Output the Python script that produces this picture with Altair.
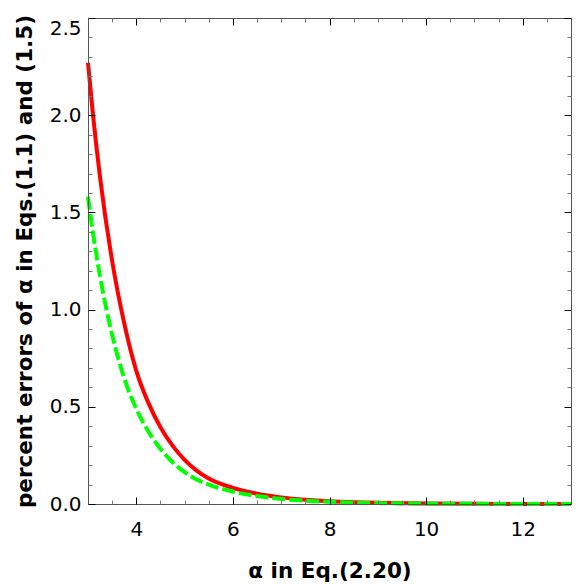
import altair as alt
import pandas as pd

# Curves (shared x positions)
x_vals = [3.0, 3.1, 3.25, 3.5, 3.75, 4.0, 4.25, 4.5, 4.75, 5.0, 5.25, 5.5,
          6.0, 6.5, 7.0, 7.5, 8.0, 8.5, 9.0, 10.0, 11.0, 12.0, 13.0]
# Red solid curve
y_red = [2.27, 2.01, 1.68, 1.25, 0.93, 0.685, 0.52, 0.395, 0.30, 0.227, 0.172, 0.131,
         0.083, 0.053, 0.034, 0.022, 0.014, 0.009, 0.0058, 0.0024, 0.001, 0.0004, 0.00017]
# Green dashed curve
y_green = [1.58, 1.40, 1.17, 0.87, 0.647, 0.49, 0.373, 0.284, 0.215, 0.164, 0.126, 0.10,
           0.064, 0.041, 0.026, 0.017, 0.011, 0.007, 0.0045, 0.0018, 0.0007, 0.0003, 0.0001]

x_major = [4, 6, 8, 10, 12]
x_minor = [3.5, 4.5, 5, 5.5, 6.5, 7, 7.5, 8.5, 9, 9.5, 10.5, 11, 11.5, 12.5]
y_major = [0.0, 0.5, 1.0, 1.5, 2.0, 2.5]
y_minor = [0.1, 0.2, 0.3, 0.4, 0.6, 0.7, 0.8, 0.9, 1.1, 1.2, 1.3, 1.4,
           1.6, 1.7, 1.8, 1.9, 2.1, 2.2, 2.3, 2.4]

x_title = "α in Eq.(2.20)"
y_title = "percent errors of α in Eqs.(1.1) and (1.5)"

W, H = 483, 486
FRAME = "#555555"
MINOR = "#777777"

red_df = pd.DataFrame({"x": x_vals, "y": y_red})
green_df = pd.DataFrame({"x": x_vals, "y": y_green})


def xs():
    return alt.Scale(domain=[3, 13], nice=False, zero=False)


def ys():
    return alt.Scale(domain=[0, 2.5], nice=False, zero=False)


def tick_axis(orient, offset, values, size, color, domain=False):
    return alt.Axis(orient=orient, offset=offset, values=values, labels=False,
                    ticks=True, tickSize=size, tickColor=color, tickWidth=1,
                    domain=domain, domainColor=FRAME, domainWidth=1,
                    grid=False, title=None, zindex=1)


# Layer 1: red line with labelled bottom/left axes
red = alt.Chart(red_df).mark_line(color="#ff0000", strokeWidth=4, interpolate="monotone").encode(
    x=alt.X("x:Q", scale=xs(), axis=alt.Axis(
        orient="bottom", values=x_major, ticks=False, tickSize=0, labels=True,
        labelFont="DejaVu Sans", labelFontSize=20, labelPadding=15, labelColor="black",
        domain=True, domainColor=FRAME, domainWidth=1, grid=False,
        title=x_title, titleFont="DejaVu Sans", titleFontWeight="bold", titleFontSize=21.5,
        titleColor="black", titleY=73, titleX=W / 2, titleBaseline="alphabetic", zindex=1)),
    y=alt.Y("y:Q", scale=ys(), axis=alt.Axis(
        orient="left", values=y_major, format=".1f", ticks=False, tickSize=0, labels=True,
        labelFont="DejaVu Sans", labelFontSize=20, labelPadding=7, labelColor="black",
        labelBaseline={"condition": {"test": "datum.value >= 2.5", "value": "top"},
                       "value": "middle"},
        domain=True, domainColor=FRAME, domainWidth=1, grid=False,
        title=y_title, titleFont="DejaVu Sans", titleFontWeight="bold", titleFontSize=21.5,
        titleColor="black", titleX=-57, titleY=H / 2, titleBaseline="alphabetic",
        titleAngle=270, zindex=1)),
)

# Layer 2: green dashed line, inward major ticks on bottom and left
green = alt.Chart(green_df).mark_line(color="#00ff00", strokeWidth=4, strokeDash=[13, 4],
                                      interpolate="monotone").encode(
    x=alt.X("x:Q", scale=xs(), axis=tick_axis("top", -H, x_major, 7, "black")),
    y=alt.Y("y:Q", scale=ys(), axis=tick_axis("right", -W, y_major, 7, "black")),
)

# Layer 3: inward minor ticks on bottom and left
minor_bl = alt.Chart(red_df).mark_line(opacity=0).encode(
    x=alt.X("x:Q", scale=xs(), axis=tick_axis("top", -H, x_minor, 4, MINOR)),
    y=alt.Y("y:Q", scale=ys(), axis=tick_axis("right", -W, y_minor, 4, MINOR)),
)

# Layer 4: top and right frame with inward major ticks
major_tr = alt.Chart(red_df).mark_line(opacity=0).encode(
    x=alt.X("x:Q", scale=xs(), axis=tick_axis("bottom", -H, x_major, 7, "black", domain=True)),
    y=alt.Y("y:Q", scale=ys(), axis=tick_axis("left", -W, y_major, 7, "black", domain=True)),
)

# Layer 5: top and right inward minor ticks
minor_tr = alt.Chart(red_df).mark_line(opacity=0).encode(
    x=alt.X("x:Q", scale=xs(), axis=tick_axis("bottom", -H, x_minor, 4, MINOR)),
    y=alt.Y("y:Q", scale=ys(), axis=tick_axis("left", -W, y_minor, 4, MINOR)),
)

chart = alt.layer(red, green, minor_bl, major_tr, minor_tr).resolve_scale(
    x="independent", y="independent"
).properties(
    width=W, height=H,
    autosize=alt.AutoSizeParams(type="none"),
    padding={"left": 80, "top": 10, "right": 1, "bottom": 78},
).configure_view(strokeWidth=0)

chart.save("out.html", embed_options={"renderer": "svg", "actions": False})
